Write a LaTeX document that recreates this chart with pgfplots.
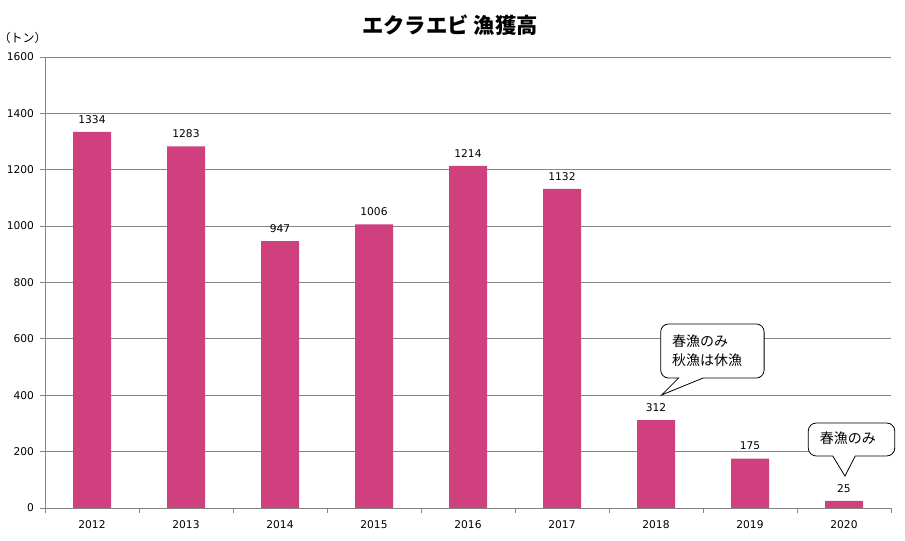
\documentclass[border=0pt]{standalone}
\usepackage{pgfplots}
\pgfplotsset{compat=1.18}
\usepackage{fontspec}
\setmainfont{DejaVu Sans}
\newfontfamily\jp{Noto Sans CJK JP}
\definecolor{barc}{RGB}{208,64,126}
\definecolor{gridc}{RGB}{134,134,134}
\begin{document}
\begin{tikzpicture}
\useasboundingbox (0,0) rectangle (678.75pt,405.75pt);
\node[font=\jp\bfseries\fontsize{16}{19}\selectfont] at (337.5pt,387pt) {エクラエビ 漁獲高};
\node[font=\jp\fontsize{9}{11}\selectfont] at (17pt,377pt) {（トン）};
\begin{axis}[
  at={(33.75pt,24.75pt)}, anchor=south west,
  scale only axis, width=634.5pt, height=338.25pt,
  xmin=-0.5, xmax=8.5, ymin=0, ymax=1600,
  ytick={0,200,...,1600},
  xtick={-0.5,0.5,...,8.5},
  x tick label as interval,
  xticklabels={2012,2013,2014,2015,2016,2017,2018,2019,2020},
  axis lines=left,
  axis line style={gridc, -},
  ymajorgrids, grid style={gridc, line width=0.6pt},
  tick align=outside, major tick length=3.75pt,
  tick style={gridc, line width=0.6pt},
  /pgf/number format/assume math mode=true,
  /pgf/number format/set thousands separator={},
  ticklabel style={font=\fontsize{8}{10}\selectfont},
  yticklabel style={xshift=-1pt},
  xticklabel style={yshift=-2pt},
  clip=false,
  ybar, bar width=28.5pt,
  nodes near coords,
  every node near coord/.append style={font=\fontsize{8}{10}\selectfont, black, yshift=3pt},
]
\addplot[fill=barc, draw=none] coordinates {
(0,1334) (1,1283) (2,947) (3,1006) (4,1214) (5,1132) (6,312) (7,175) (8,25)};
\draw[fill=white, draw=black, line width=0.6pt]
  (axis cs:6.5,461) [rounded corners=6pt] -- (axis cs:7.15,461) -- (axis cs:7.15,653)
  -- (axis cs:6.05,653) -- (axis cs:6.05,461) [sharp corners] -- (axis cs:6.24,461)
  -- (axis cs:6.06,401) -- cycle;
\node[anchor=west, align=left, font=\jp\fontsize{10.5}{14}\selectfont, inner sep=0pt]
  at (axis cs:6.17,557) {春漁のみ\\秋漁は休漁};
\draw[fill=white, draw=black, line width=0.6pt]
  (axis cs:8.12,184.5) [rounded corners=6pt] -- (axis cs:8.54,184.5) -- (axis cs:8.54,301.5)
  -- (axis cs:7.62,301.5) -- (axis cs:7.62,184.5) [sharp corners] -- (axis cs:7.88,184.5)
  -- (axis cs:8.01,113.5) -- cycle;
\node[font=\jp\fontsize{10.5}{14}\selectfont, inner sep=0pt]
  at (axis cs:8.04,246) {春漁のみ};
\end{axis}
\end{tikzpicture}
\end{document}
